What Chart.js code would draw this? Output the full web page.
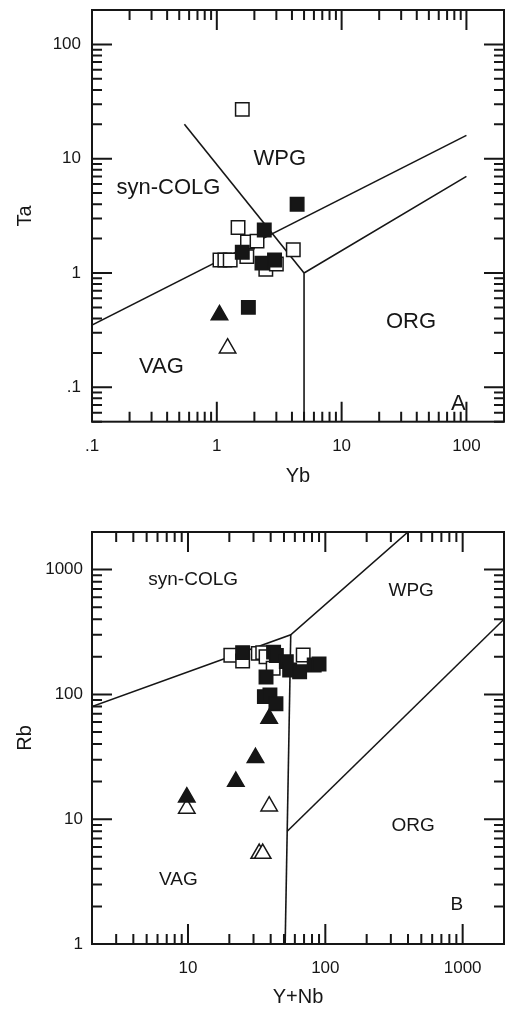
<!DOCTYPE html>
<html>
<head>
<meta charset="utf-8">
<script src="https://cdn.jsdelivr.net/npm/chart.js@4.4.0/dist/chart.umd.min.js"></script>
<style>
  html, body { margin: 0; padding: 0; background: #fff; overflow: hidden; }
  .box { position: absolute; left: 0; width: 507px; }
  #boxA { top: 0; height: 500px; }
  #boxB { top: 500px; height: 510px; }
</style>
</head>
<body>
<div class="box" id="boxA"><canvas id="chartA"></canvas></div>
<div class="box" id="boxB"><canvas id="chartB"></canvas></div>
<script>
// --- Diagram A: Ta vs Yb ---
const aOpenSquares = [[1.6, 27], [1.48, 2.5], [1.76, 1.87], [2.1, 1.9], [4.1, 1.6], [1.74, 1.39],
    [1.06, 1.3], [1.16, 1.3], [1.28, 1.3], [2.47, 1.08], [3.0, 1.2]];
const aFilledSquares = [[4.4, 4.0], [2.4, 2.38], [1.6, 1.52], [2.3, 1.22], [2.9, 1.3], [1.79, 0.5]];
const aFilledTriangles = [[1.05, 0.43]];
const aOpenTriangles = [[1.22, 0.22]];
// field boundaries
const aLineVag = [[0.1, 0.35], [100, 16]];
const aLineWpg = [[0.55, 20], [5, 1]];
const aLineOrg = [[5, 0.05], [5, 1], [100, 7]];
// axis ticks
const aXTicks = [0.1, 1, 10, 100];
const aXTickLabels = ['.1', '1', '10', '100'];
const aYTicks = [0.1, 1, 10, 100];
const aYTickLabels = ['.1', '1', '10', '100'];
// field names
const aFieldNames = ['WPG', 'syn-COLG', 'ORG', 'VAG', 'A'];
const aFieldX = [3.2, 0.41, 36, 0.36, 86];
const aFieldY = [10, 5.5, 0.37, 0.15, 0.072];

// --- Diagram B: Rb vs Y+Nb ---
const bOpenSquares = [[20.5, 206], [25, 185], [32.5, 213], [35, 216], [37, 200], [41.7, 162], [69, 207]];
const bFilledSquares = [[25, 216], [42, 218], [44, 205], [52, 183], [55, 157], [65, 152], [83, 172],
    [90, 175], [37, 138], [36, 96], [39.5, 99], [43.7, 84]];
const bFilledTriangles = [[39, 64], [31, 31], [22.3, 20], [9.8, 15]];
const bOpenTriangles = [[9.8, 12.2], [39, 12.7], [33, 5.3], [35, 5.3]];
const bLineColg = [[2, 80], [56, 300], [400, 2000]];
const bLineVag = [[51, 1], [56, 300]];
const bLineOrg = [[52.8, 8], [2000, 400]];
const bXTicks = [10, 100, 1000];
const bXTickLabels = ['10', '100', '1000'];
const bYTicks = [1, 10, 100, 1000];
const bYTickLabels = ['1', '10', '100', '1000'];
const bFieldNames = ['syn-COLG', 'WPG', 'ORG', 'VAG', 'B'];
const bFieldX = [10.9, 422, 436, 8.5, 908];
const bFieldY = [826, 674, 8.8, 3.3, 2.05];

const INK = '#161616';
const FONT = '"Liberation Sans", Arial, Helvetica, sans-serif';

const pts = arr => arr.map(p => ({ x: p[0], y: p[1] }));

// log ticks 1..9 per decade between lo and hi
function logTicks(lo, hi) {
    const out = [];
    for (let e = -3; e <= 4; e++) {
        for (let m = 1; m <= 9; m++) {
            const v = m * Math.pow(10, e);
            if (v >= lo * 0.999 && v <= hi * 1.001) out.push({ v: v, major: m === 1 });
        }
    }
    return out;
}

// frame, inward ticks on all four sides and field names
const frameTicks = {
    id: 'frameTicks',
    afterDraw(chart, args, opts) {
        const { ctx, chartArea: a } = chart;
        const x = chart.scales.x, y = chart.scales.y;
        ctx.save();
        ctx.strokeStyle = INK;
        ctx.lineWidth = 2;
        ctx.strokeRect(a.left, a.top, a.right - a.left, a.bottom - a.top);
        ctx.beginPath();
        logTicks(x.min, x.max).forEach(t => {
            const px = x.getPixelForValue(t.v);
            const len = t.major ? 20 : 10;
            ctx.moveTo(px, a.bottom); ctx.lineTo(px, a.bottom - len);
            ctx.moveTo(px, a.top); ctx.lineTo(px, a.top + len);
        });
        logTicks(y.min, y.max).forEach(t => {
            const py = y.getPixelForValue(t.v);
            const len = t.major ? 20 : 10;
            ctx.moveTo(a.left, py); ctx.lineTo(a.left + len, py);
            ctx.moveTo(a.right, py); ctx.lineTo(a.right - len, py);
        });
        ctx.stroke();

        ctx.fillStyle = INK;
        ctx.textAlign = 'center';
        ctx.textBaseline = 'middle';
        ctx.font = opts.size + 'px ' + FONT;
        opts.names.forEach((n, i) => {
            ctx.fillText(n, x.getPixelForValue(opts.xs[i]), y.getPixelForValue(opts.ys[i]));
        });
        ctx.restore();
    }
};

function markers(data, style, filled, order) {
    return {
        data: pts(data),
        pointStyle: style,
        pointRadius: 9.5,
        pointHoverRadius: 9.5,
        pointBackgroundColor: filled ? INK : '#fff',
        pointBorderColor: INK,
        pointBorderWidth: 1.5,
        showLine: false,
        order: order
    };
}

function boundary(data) {
    return {
        data: pts(data),
        showLine: true,
        borderColor: INK,
        borderWidth: 1.6,
        pointRadius: 0,
        fill: false,
        tension: 0,
        order: 10
    };
}

function logAxis(opts) {
    return {
        type: 'logarithmic',
        min: opts.min,
        max: opts.max,
        grid: { display: false, drawTicks: false },
        border: { display: false },
        afterBuildTicks: s => { s.ticks = opts.ticks.map(v => ({ value: v })); },
        afterFit: s => {
            opts.fit(s);
            // labels never overflow the plot edges here, so no extra layout padding
            s.paddingLeft = 0; s.paddingRight = 0; s.paddingTop = 0; s.paddingBottom = 0;
        },
        ticks: {
            callback: (v, i) => opts.labels[i],
            font: { family: FONT, size: 17 },
            color: INK,
            padding: opts.pad,
            autoSkip: false,
            maxRotation: 0
        },
        title: {
            display: true,
            text: opts.title,
            font: { family: FONT, size: 20 },
            color: INK,
            padding: opts.titlePad
        }
    };
}

function makeChart(id, sets, scales, padTop, fields) {
    return new Chart(document.getElementById(id), {
        type: 'scatter',
        data: { datasets: sets },
        options: {
            responsive: true,
            maintainAspectRatio: false,
            animation: false,
            layout: { autoPadding: false, padding: { top: padTop, right: 3, left: 0, bottom: 0 } },
            plugins: {
                legend: { display: false },
                tooltip: { enabled: false },
                frameTicks: fields
            },
            scales: scales
        },
        plugins: [frameTicks]
    });
}

makeChart('chartA', [
    markers(aFilledSquares, 'rect', true, 1),
    markers(aFilledTriangles, 'triangle', true, 1),
    markers(aOpenSquares, 'rect', false, 2),
    markers(aOpenTriangles, 'triangle', false, 2),
    boundary(aLineVag),
    boundary(aLineWpg),
    boundary(aLineOrg)
], {
    x: logAxis({ min: 0.1, max: 200, ticks: aXTicks, labels: aXTickLabels, pad: 14, title: 'Yb',
        titlePad: { top: 0, bottom: 12 }, fit: s => { s.height = 78.3; } }),
    y: logAxis({ min: 0.05, max: 200, ticks: aYTicks, labels: aYTickLabels, pad: 11, title: 'Ta',
        titlePad: { top: 13, bottom: 0 }, fit: s => { s.width = 92; } })
}, 10, { names: aFieldNames, xs: aFieldX, ys: aFieldY, size: 22 });

makeChart('chartB', [
    markers(bFilledSquares, 'rect', true, 1),
    markers(bFilledTriangles, 'triangle', true, 1),
    markers(bOpenSquares, 'rect', false, 2),
    markers(bOpenTriangles, 'triangle', false, 2),
    boundary(bLineColg),
    boundary(bLineVag),
    boundary(bLineOrg)
], {
    x: logAxis({ min: 2, max: 2000, ticks: bXTicks, labels: bXTickLabels, pad: 14, title: 'Y+Nb',
        titlePad: { top: 0, bottom: 1 }, fit: s => { s.height = 66; } }),
    y: logAxis({ min: 1, max: 2000, ticks: bYTicks, labels: bYTickLabels, pad: 9, title: 'Rb',
        titlePad: { top: 13, bottom: 0 }, fit: s => { s.width = 92; } })
}, 32, { names: bFieldNames, xs: bFieldX, ys: bFieldY, size: 19 });
</script>
</body>
</html>
